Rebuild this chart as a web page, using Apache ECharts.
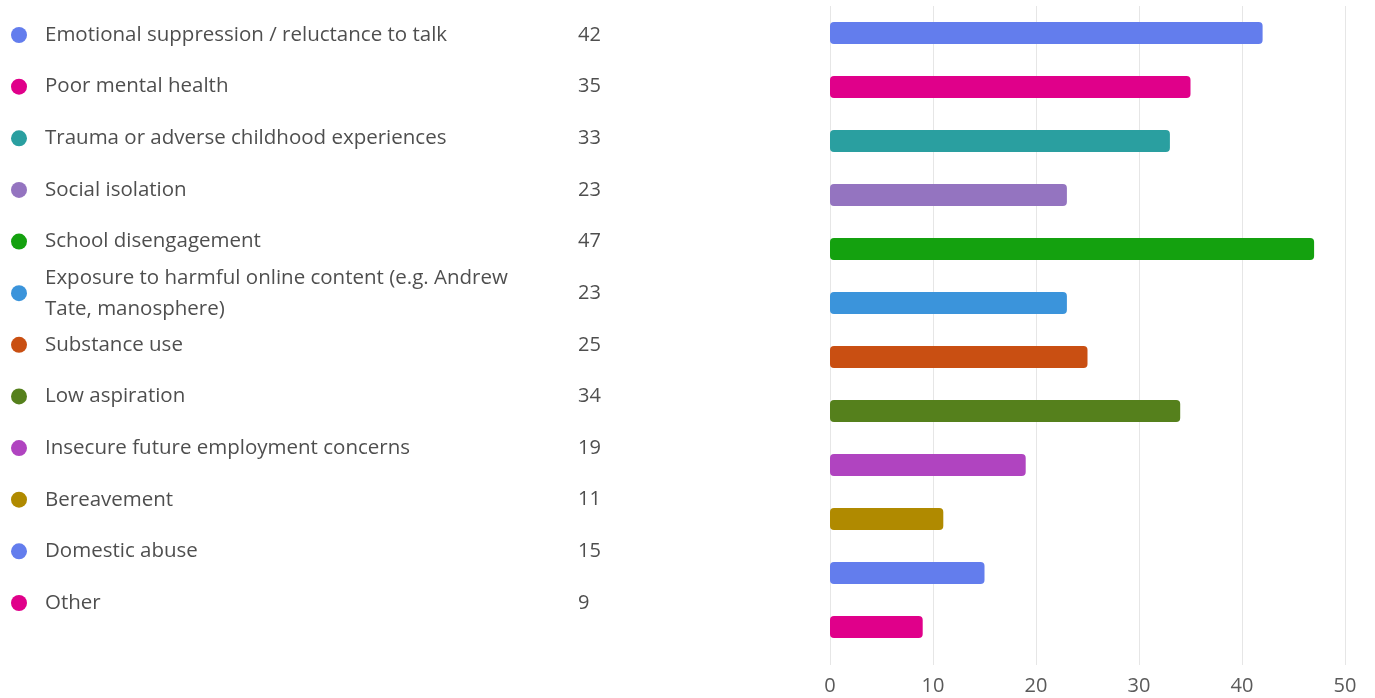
<!DOCTYPE html>
<html>
<head>
<meta charset="utf-8">
<script src="https://cdn.jsdelivr.net/npm/echarts@6/dist/echarts.min.js"></script>
<style>
html,body{margin:0;padding:0;background:#fff;}
#c{width:1375px;height:698px;}
</style>
</head>
<body>
<div id="c"></div>
<script>
const categories = [
  'Emotional suppression / reluctance to talk',
  'Poor mental health',
  'Trauma or adverse childhood experiences',
  'Social isolation',
  'School disengagement',
  'Exposure to harmful online content (e.g. Andrew Tate, manosphere)',
  'Substance use',
  'Low aspiration',
  'Insecure future employment concerns',
  'Bereavement',
  'Domestic abuse',
  'Other'
];
const values = [42, 35, 33, 23, 47, 23, 25, 34, 19, 11, 15, 9];
const colors = ['#637ded', '#e0008a', '#2a9fa0', '#9474c0', '#14a10f', '#3b94db',
                '#c94f12', '#55801c', '#b044c0', '#b08a00', '#637ded', '#e0008a'];
const xTicks = [0, 10, 20, 30, 40, 50];

const FONT = 'Open Sans';
const chart = echarts.init(document.getElementById('c'));

const idx = categories.map((_, i) => i);

chart.setOption({
  animation: false,
  textStyle: { fontFamily: FONT },
  grid: [
    { left: 0, width: 620, top: 9.2, height: 619.6 },
    { left: 830, right: 30, top: 6, height: 648 }
  ],
  xAxis: [
    { gridIndex: 0, type: 'value', min: 0, max: 620, show: false },
    {
      gridIndex: 1, type: 'value', min: xTicks[0], max: xTicks[xTicks.length - 1], interval: 10,
      axisLine: { show: false },
      axisTick: { show: true, length: 11, lineStyle: { color: '#e6e6e6' } },
      splitLine: { show: true, lineStyle: { color: '#e6e6e6', width: 1 } },
      axisLabel: { color: '#5a5a5a', fontSize: 20, fontFamily: FONT, margin: 22 }
    }
  ],
  yAxis: [
    { gridIndex: 0, type: 'category', data: categories, inverse: true, show: false },
    { gridIndex: 1, type: 'category', data: categories, inverse: true,
      axisLine: { show: false }, axisTick: { show: false }, axisLabel: { show: false } }
  ],
  series: [
    {
      type: 'scatter', xAxisIndex: 0, yAxisIndex: 0, symbolSize: 16, silent: true,
      data: idx.map(i => ({ value: [19, i], itemStyle: { color: colors[i], opacity: 1 } }))
    },
    {
      type: 'scatter', xAxisIndex: 0, yAxisIndex: 0, symbolSize: 0, silent: true,
      data: idx.map(i => [45, i]),
      label: {
        show: true, position: 'right', distance: 0,
        formatter: p => categories[p.dataIndex],
        color: '#222', fontSize: 20.5, fontFamily: FONT,
        width: 490, overflow: 'break', lineHeight: 31
      }
    },
    {
      type: 'scatter', xAxisIndex: 0, yAxisIndex: 0, symbolSize: 0, silent: true,
      data: idx.map(i => [578, i]),
      label: {
        show: true, position: 'right', distance: 0,
        formatter: p => String(values[p.dataIndex]),
        color: '#222', fontSize: 20, fontFamily: FONT
      }
    },
    {
      type: 'bar', xAxisIndex: 1, yAxisIndex: 1, barWidth: 22,
      data: values.map((v, i) => ({ value: v, itemStyle: { color: colors[i], borderRadius: 4 } }))
    }
  ]
});
</script>
</body>
</html>
